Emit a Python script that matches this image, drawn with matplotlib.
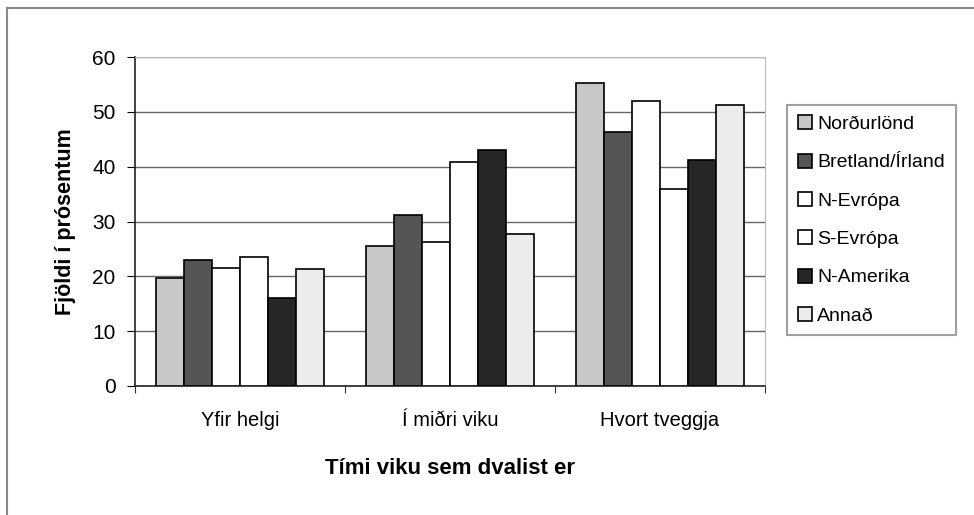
import numpy as np
import matplotlib.pyplot as plt
from matplotlib.lines import Line2D

plt.rcParams['font.family'] = ['Liberation Sans', 'DejaVu Sans']

categories = ['Yfir helgi', 'Í miðri viku', 'Hvort tveggja']
regions = ['Norðurlönd', 'Bretland/Írland', 'N-Evrópa', 'S-Evrópa', 'N-Amerika', 'Annað']
values = {
    'Norðurlönd':      [19.7, 25.5, 55.3],
    'Bretland/Írland': [22.9, 31.2, 46.3],
    'N-Evrópa':        [21.6, 26.2, 51.9],
    'S-Evrópa':        [23.5, 40.8, 35.9],
    'N-Amerika':       [16.1, 43.0, 41.3],
    'Annað':           [21.3, 27.8, 51.2],
}
colors = ['#c8c8c8', '#555555', '#ffffff', '#ffffff', '#262626', '#ececec']
yticks = [0, 10, 20, 30, 40, 50, 60]

fig = plt.figure(figsize=(9.74, 5.15), dpi=100)
ax = fig.add_axes([0.1386, 0.2505, 0.6468, 0.6388])

x = np.arange(len(categories))
w = 0.8 / len(regions)
for i, r in enumerate(regions):
    ax.bar(x + (i - 2.5) * w, values[r], width=w, color=colors[i],
           edgecolor='black', linewidth=1.2, label=r, zorder=3)

ax.set_ylim(0, 60)
ax.set_xlim(-0.5, 2.5)
ax.set_yticks(yticks)
ax.yaxis.grid(True, color='#666666', linewidth=1.0, zorder=0)

# category boundary ticks, labels in between
ax.set_xticks([-0.5, 0.5, 1.5, 2.5])
ax.set_xticklabels([])
ax.set_xticks(x, minor=True)
ax.set_xticklabels(categories, minor=True, fontsize=14.5)
ax.tick_params(axis='x', which='major', length=5, direction='out', color='#333333')
ax.tick_params(axis='x', which='minor', length=0, pad=18)
ax.tick_params(axis='y', length=6, direction='out', labelsize=15, pad=8)

for s in ['top', 'right']:
    ax.spines[s].set_color('#bbbbbb')
for s in ['left', 'bottom']:
    ax.spines[s].set_color('#222222')
    ax.spines[s].set_linewidth(1.2)

ax.set_ylabel('Fjöldi í prósentum', fontsize=15.5, fontweight='bold', labelpad=12)
ax.set_xlabel('Tími viku sem dvalist er', fontsize=16, fontweight='bold', labelpad=20)

leg = fig.legend(loc='upper left', bbox_to_anchor=(0.808, 0.797), fontsize=14,
                 handlelength=0.75, handleheight=0.75, handletextpad=0.25,
                 labelspacing=1.05, borderpad=0.55, borderaxespad=0,
                 frameon=True, fancybox=False)
leg.get_frame().set_edgecolor('#888888')
leg.get_frame().set_linewidth(1.5)

# outer chart border
fig.add_artist(Line2D([7 / 974, 1.0], [1 - 8 / 515, 1 - 8 / 515], color='#888888', linewidth=1.5))
fig.add_artist(Line2D([7 / 974, 7 / 974], [0.0, 1 - 8 / 515], color='#888888', linewidth=1.5))

fig.savefig('out.png', dpi=100)
